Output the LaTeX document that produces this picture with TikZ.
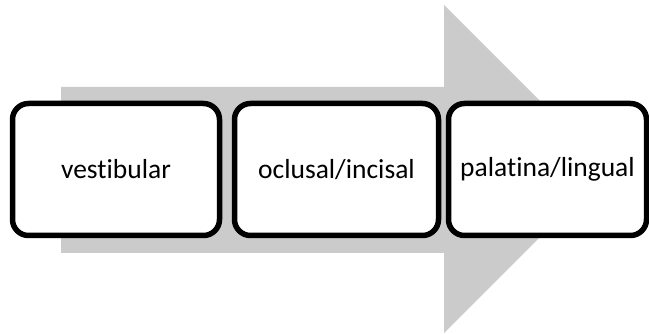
\documentclass[tikz,border=0pt]{standalone}
\usepackage{fontspec}
\setmainfont[Ligatures={NoCommon}]{Carlito}
\definecolor{arrowgray}{RGB}{203,203,203}
\begin{document}
\begin{tikzpicture}[x=1pt,y=-1pt,
  stagebox/.style={draw=black, fill=white, line width=5.5pt, rounded corners=16pt,
    minimum height=132pt, inner sep=0pt, font=\fontsize{27.5}{32}\selectfont}]
\useasboundingbox (0,0) rectangle (649,334);
\fill[arrowgray] (61,87) -- (444,87) -- (444,5) -- (608,169) -- (444,333) -- (444,253) -- (61,253) -- cycle;
\node[stagebox, minimum width=207pt] (b1) at (116,169.5) {vestibular};
\node[stagebox, minimum width=204pt] (b2) at (336.5,169.5) {oclusal/incisal};
\node[stagebox, minimum width=198pt] (b3) at (547.5,169.5) {palatina/lingual};
\end{tikzpicture}
\end{document}
